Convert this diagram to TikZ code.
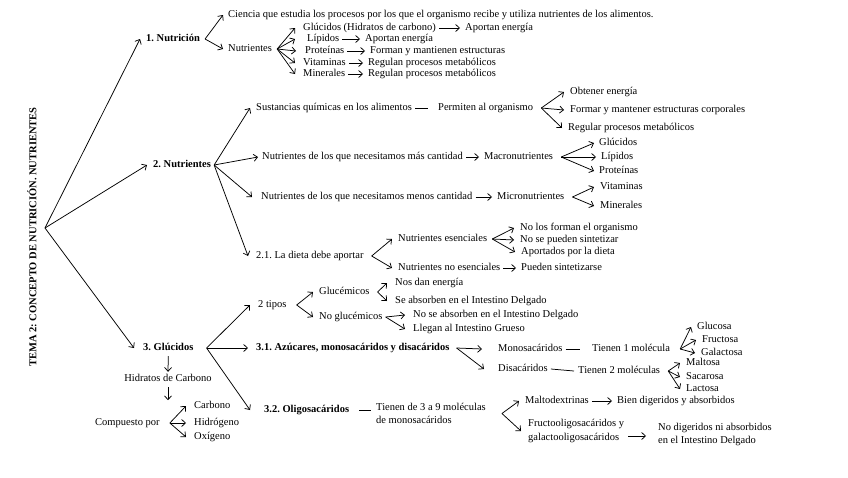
\documentclass[tikz,border=0pt]{standalone}
\usepackage{fontspec}
\setmainfont{Liberation Serif}
\usetikzlibrary{arrows.meta,positioning}
\frenchspacing
\newcommand\fs{\fontsize{10.5}{13.5}\selectfont\frenchspacing}
\tikzset{
  t/.style={anchor=west, inner sep=0pt, text height=7pt, text depth=2pt, font=\fs},
  b/.style={t, font=\fs\bfseries},
  tl/.style={anchor=west, inner sep=0pt, align=left, font=\fs},
  ttl/.style={rotate=90, inner sep=0pt, font=\fontsize{10.5}{12}\selectfont\bfseries},
  arr/.style={-{Straight Barb[length=3.8pt,width=7pt]}, line width=0.75pt},
  ln/.style={line width=0.75pt},
}
\begin{document}
\begin{tikzpicture}[x=1pt,y=-1pt]
\fill[white] (0,0) rectangle (848,477);
\useasboundingbox (0,0) rectangle (848,477);

\node[ttl] (title) at (32,237) {TEMA 2: CONCEPTO DE NUTRICIÓN. NUTRIENTES};
\coordinate (root) at (45,228);
\node[b] (n1) at (146,39) {1. Nutrición};
\node[b] (n2) at (153,165) {2. Nutrientes};
\node[b] (n3) at (143,348) {3. Glúcidos};
\draw[arr] (root) -- ([xshift=-6pt]n1.west);
\draw[arr] (root) -- ([xshift=-6pt]n2.west);
\draw[arr] (root) -- ([xshift=-9pt]n3.west);

% ---- 1
\node[t] (cien) at (228,15) {Ciencia que estudia los procesos por los que el organismo recibe y utiliza nutrientes de los alimentos.};
\node[t] (nutA) at (228,49) {Nutrientes};
\draw[arr] ([xshift=5pt]n1.east) -- ([xshift=-5pt]cien.west);
\draw[arr] ([xshift=5pt]n1.east) -- ([xshift=-5pt]nutA.west);
\node[t] (glu1) at (303,28) {Glúcidos (Hidratos de carbono)};
\node[t] (lip1) at (307,39) {Lípidos};
\node[t] (pro1) at (305,51) {Proteínas};
\node[t] (vit1) at (303,63) {Vitaminas};
\node[t] (min1) at (303,74) {Minerales};
\foreach \n/\s in {glu1/8,lip1/12,pro1/9,vit1/8,min1/8}
  \draw[arr] ([xshift=5pt]nutA.east) -- ([xshift=-\s pt]\n.west);
\node[t] (ae1) at (465,28) {Aportan energía};
\node[t] (ae2) at (365,39) {Aportan energía};
\node[t] (fm1) at (370,51) {Forman y mantienen estructuras};
\node[t] (rg1) at (368,63) {Regulan procesos metabólicos};
\node[t] (rg2) at (368,74) {Regulan procesos metabólicos};
\foreach \a/\b in {glu1/ae1,lip1/ae2,pro1/fm1,vit1/rg1,min1/rg2}
  \draw[arr] ([xshift=3pt]\a.east) -- ([xshift=-5pt]\b.west);

% ---- 2
\node[t] (sus) at (256,108) {Sustancias químicas en los alimentos};
\node[t] (perm) at (438,108) {Permiten al organismo};
\draw[ln] ([xshift=3pt]sus.east) -- ([xshift=-10pt]perm.west);
\node[t] (obt) at (570,92) {Obtener energía};
\node[t] (form) at (570,110) {Formar y mantener estructuras corporales};
\node[t] (reg) at (568,128) {Regular procesos metabólicos};
\foreach \n in {obt,form,reg}
  \draw[arr] ([xshift=8pt]perm.east) -- ([xshift=-6pt]\n.west);

\node[t] (mas) at (262,157) {Nutrientes de los que necesitamos más cantidad};
\node[t] (macro) at (484,157) {Macronutrientes};
\draw[arr] ([xshift=3pt]mas.east) -- ([xshift=-5pt]macro.west);
\node[t] (glu2) at (599,143) {Glúcidos};
\node[t] (lip2) at (601,157) {Lípidos};
\node[t] (pro2) at (599,171) {Proteínas};
\foreach \n in {glu2,lip2,pro2}
  \draw[arr] ([xshift=8pt]macro.east) -- ([xshift=-5pt]\n.west);

\node[t] (menos) at (261,197) {Nutrientes de los que necesitamos menos cantidad};
\node[t] (micro) at (497,197) {Micronutrientes};
\draw[arr] ([xshift=3pt]menos.east) -- ([xshift=-5pt]micro.west);
\node[t] (vit2) at (600,187) {Vitaminas};
\node[t] (min2) at (600,206) {Minerales};
\foreach \n in {vit2,min2}
  \draw[arr] ([xshift=8pt]micro.east) -- ([xshift=-6pt]\n.west);

\node[t] (dieta) at (256,256) {2.1. La dieta debe aportar};
\node[t] (esen) at (398,239) {Nutrientes esenciales};
\node[t] (noesen) at (398,268) {Nutrientes no esenciales};
\foreach \n in {esen,noesen}
  \draw[arr] ([xshift=8pt]dieta.east) -- ([xshift=-6pt]\n.west);
\node[t] (nolos) at (520,228) {No los forman el organismo};
\node[t] (nose) at (520,240) {No se pueden sintetizar};
\node[t] (apor) at (521,252) {Aportados por la dieta};
\foreach \n in {nolos,nose,apor}
  \draw[arr] ([xshift=5pt]esen.east) -- ([xshift=-6pt]\n.west);
\node[t] (pued) at (521,268) {Pueden sintetizarse};
\draw[arr] ([xshift=3pt]noesen.east) -- ([xshift=-5pt]pued.west);

\draw[arr] ([xshift=3pt]n2.east) -- ([xshift=-6pt]sus.west);
\draw[arr] ([xshift=3pt]n2.east) -- ([xshift=-4pt]mas.west);
\draw[arr] ([xshift=3pt]n2.east) -- ([xshift=-9pt]menos.west);
\draw[arr] ([xshift=3pt]n2.east) -- ([xshift=-8pt]dieta.west);

% ---- 3
\node[t] (tipos) at (258,305) {2 tipos};
\node[b] (azu) at (256,348) {3.1. Azúcares, monosacáridos y disacáridos};
\node[b] (oligo) at (264,410) {3.2. Oligosacáridos};
\draw[arr] ([xshift=13pt]n3.east) -- ([xshift=-8pt]tipos.west);
\draw[arr] ([xshift=13pt]n3.east) -- ([xshift=-8pt]azu.west);
\draw[arr] ([xshift=13pt]n3.east) -- ([xshift=-14pt]oligo.west);

\node[t,anchor=center] (hid) at (168,379) {Hidratos de Carbono};
\draw[arr] ([yshift=-3.5pt]n3.south) -- ([yshift=2.5pt]hid.north);
\draw[arr] ([yshift=-3.5pt]hid.south) -- ++(0pt,-13pt);
\node[t] (comp) at (95,423) {Compuesto por};
\node[t] (carb) at (194,406) {Carbono};
\node[t] (hidr) at (194,423) {Hidrógeno};
\node[t] (oxi) at (194,437) {Oxígeno};
\foreach \n in {carb,hidr,oxi}
  \draw[arr] ([xshift=10pt]comp.east) -- ([xshift=-8pt]\n.west);

\node[t] (gluc) at (319,292) {Glucémicos};
\node[t] (noglu) at (319,317) {No glucémicos};
\foreach \n in {gluc,noglu}
  \draw[arr] ([xshift=10pt]tipos.east) -- ([xshift=-6pt]\n.west);
\node[t] (nos) at (395,283) {Nos dan energía};
\node[t] (se) at (395,301) {Se absorben en el Intestino Delgado};
\foreach \n in {nos,se}
  \draw[arr] ([xshift=8pt]gluc.east) -- ([xshift=-8pt]\n.west);
\node[t] (nose2) at (413,315) {No se absorben en el Intestino Delgado};
\node[t] (lleg) at (413,329) {Llegan al Intestino Grueso};
\foreach \n in {nose2,lleg}
  \draw[arr] ([xshift=3pt]noglu.east) -- ([xshift=-8pt]\n.west);

\node[t] (mono) at (498,349) {Monosacáridos};
\node[t] (disa) at (498,369) {Disacáridos};
\draw[arr] ([xshift=7pt]azu.east) -- ([xshift=-16pt]mono.west);
\draw[arr] ([xshift=7pt]azu.east) -- ([xshift=-14pt]disa.west);
\node[t] (t1) at (592,349) {Tienen 1 molécula};
\draw[ln] ([xshift=3pt]mono.east) -- ([xshift=-12pt]t1.west);
\node[t] (gluco) at (697,327) {Glucosa};
\node[t] (fruc) at (702,340) {Fructosa};
\node[t] (galac) at (701,353) {Galactosa};
\foreach \n in {gluco,fruc,galac}
  \draw[arr] ([xshift=10pt]t1.east) -- ([xshift=-6pt]\n.west);
\node[t] (t2) at (578,371) {Tienen 2 moléculas};
\draw[ln] ([xshift=3pt]disa.east) -- ([xshift=-4pt]t2.west);
\node[t] (malt) at (686,363) {Maltosa};
\node[t] (sac) at (686,377) {Sacarosa};
\node[t] (lac) at (686,389) {Lactosa};
\foreach \n in {malt,sac,lac}
  \draw[arr] ([xshift=8pt]t2.east) -- ([xshift=-6pt]\n.west);

\node[tl] (tien) at (376,413.5) {Tienen de 3 a 9 moléculas\\de monosacáridos};
\draw[ln] ([xshift=10pt]oligo.east) -- ([xshift=-5pt]oligo.east -| tien.west);
\node[t] (maltod) at (525,401) {Maltodextrinas};
\node[tl] (fructo) at (528,431) {Fructooligosacáridos y\\galactooligosacáridos};
\draw[arr] ([xshift=16pt]tien.east) -- ([xshift=-6pt]maltod.west);
\draw[arr] ([xshift=16pt]tien.east) -- ([xshift=-7pt]fructo.west);
\node[t] (bien) at (617,401) {Bien digeridos y absorbidos};
\draw[arr] ([xshift=3pt]maltod.east) -- ([xshift=-5pt]bien.west);
\node[tl] (nodig) at (658,434.5) {No digeridos ni absorbidos\\en el Intestino Delgado};
\draw[arr] ([shift={(4pt,-5pt)}]fructo.east) -- ([shift={(-12pt,-1.5pt)}]nodig.west);
\end{tikzpicture}
\end{document}
